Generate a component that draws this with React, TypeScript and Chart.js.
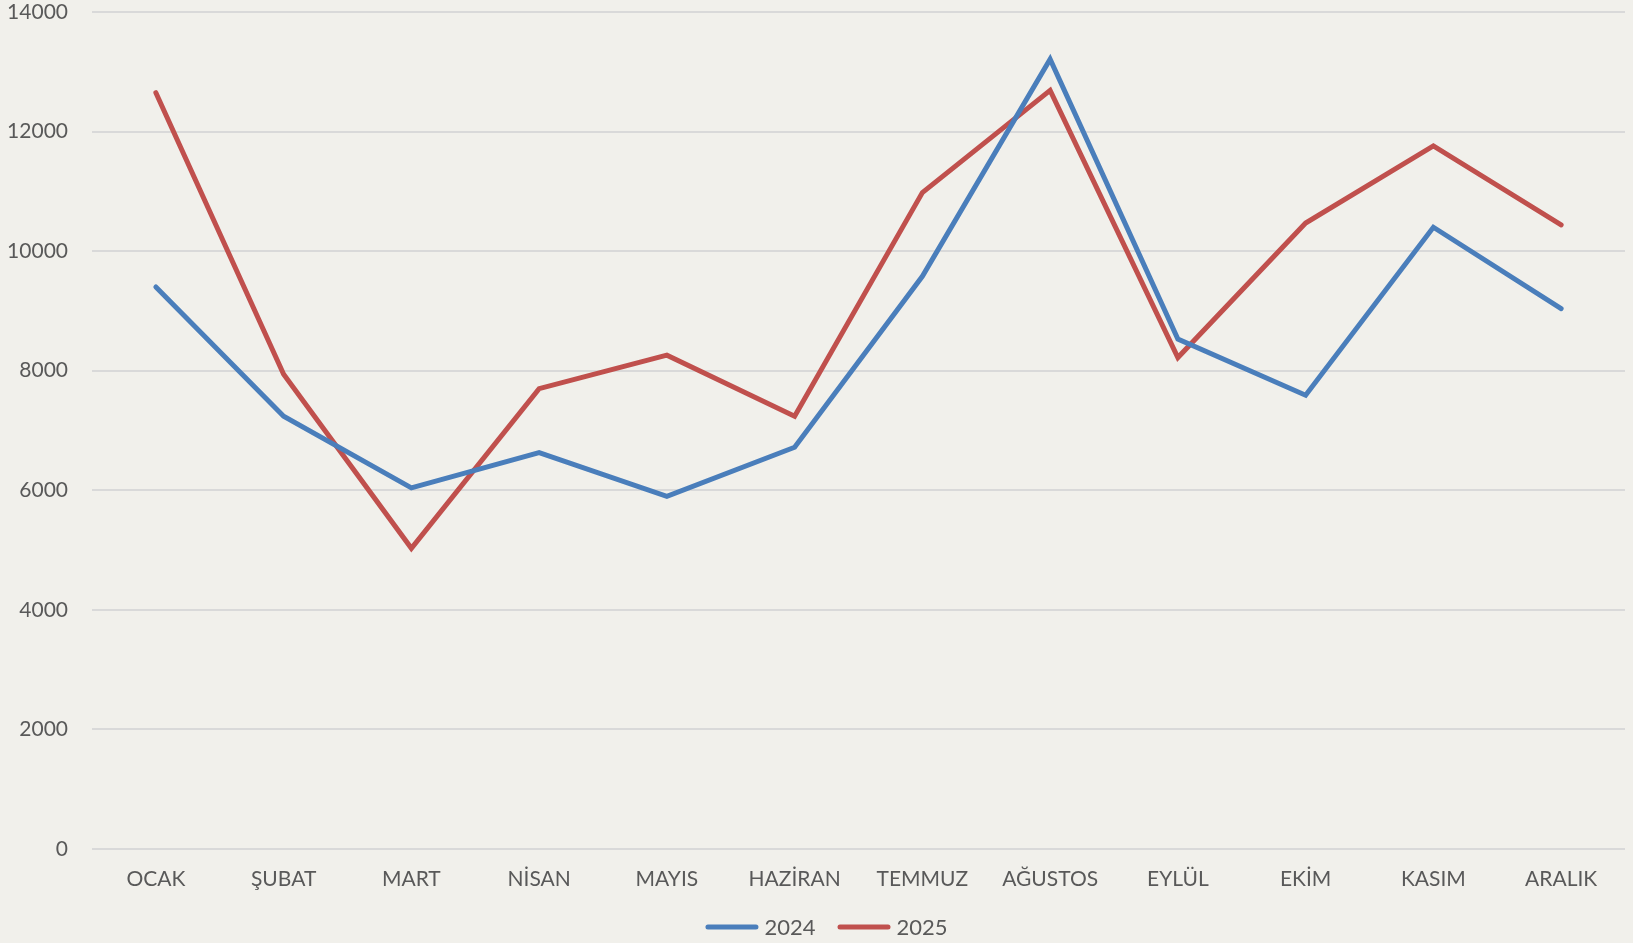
import React, { useEffect, useRef } from "react";
import { Chart, registerables } from "chart.js";

Chart.register(...registerables);

const months = ["OCAK", "ŞUBAT", "MART", "NİSAN", "MAYIS", "HAZİRAN", "TEMMUZ", "AĞUSTOS", "EYLÜL", "EKİM", "KASIM", "ARALIK"];
const values2024 = [9400, 7240, 6040, 6630, 5900, 6720, 9580, 13210, 8530, 7590, 10400, 9040];
const values2025 = [12650, 7940, 5030, 7700, 8260, 7240, 10980, 12690, 8220, 10470, 11760, 10440];
const yTicks = [0, 2000, 4000, 6000, 8000, 10000, 12000, 14000];

const BG = "#f1f0eb";
const TEXT = "#595959";
const FONT = "Lato, 'Open Sans', sans-serif";

const lineLegend = {
  id: "lineLegend",
  afterDraw(chart: any) {
    const ctx = chart.ctx as CanvasRenderingContext2D;
    const sets = chart.data.datasets;
    ctx.save();
    ctx.font = `22px ${FONT}`;
    const lineW = 53;
    const gap = 6;
    const itemGap = 22;
    const widths = sets.map((d: any) => ctx.measureText(d.label).width);
    const total = widths.reduce((a: number, w: number) => a + lineW + gap + w, 0) + itemGap * (sets.length - 1);
    let x = chart.width / 2 - total / 2 + 10;
    const y = 927;
    sets.forEach((d: any, i: number) => {
      ctx.strokeStyle = d.borderColor;
      ctx.lineWidth = 5;
      ctx.lineCap = "round";
      ctx.beginPath();
      ctx.moveTo(x + 2.5, y);
      ctx.lineTo(x + lineW - 2.5, y);
      ctx.stroke();
      ctx.fillStyle = TEXT;
      ctx.textBaseline = "middle";
      ctx.textAlign = "left";
      ctx.fillText(d.label, x + lineW + gap, y + 1);
      x += lineW + gap + widths[i] + itemGap;
    });
    ctx.restore();
  },
};

export default function App() {
  const ref = useRef<HTMLCanvasElement>(null);
  useEffect(() => {
    if (!ref.current) return;
    const chart = new Chart(ref.current, {
      type: "line",
      data: {
        labels: months,
        datasets: [
          { label: "2024", data: values2024, borderColor: "#4a7ebb", backgroundColor: "#4a7ebb", borderWidth: 5, pointRadius: 0, borderCapStyle: "round", tension: 0 },
          { label: "2025", data: values2025, borderColor: "#c0504d", backgroundColor: "#c0504d", borderWidth: 5, pointRadius: 0, borderCapStyle: "round", tension: 0 },
        ],
      },
      plugins: [lineLegend],
      options: {
        animation: false,
        responsive: false,
        maintainAspectRatio: false,
        layout: { padding: { left: 0, right: 8, top: 12, bottom: 36 } },
        plugins: {
          tooltip: { enabled: false },
          legend: { display: false },
        },
        scales: {
          x: {
            offset: true,
            grid: { display: false, drawTicks: false },
            border: { display: false },
            ticks: { color: TEXT, font: { family: FONT, size: 21 }, padding: 18, maxRotation: 0 },
            afterFit: (s: any) => { s.height = 58; s.paddingLeft = 0; s.paddingRight = 0; },
          },
          y: {
            min: 0,
            max: 14000,
            afterBuildTicks: (s: any) => { s.ticks = yTicks.map((v) => ({ value: v })); },
            grid: { color: "#d9d9d9", lineWidth: 2, drawTicks: false },
            border: { display: false },
            ticks: { color: TEXT, font: { family: FONT, size: 21 }, padding: 24, callback: (v: any) => String(v) },
            afterFit: (s: any) => { s.width = 92; s.paddingTop = 0; s.paddingBottom = 0; },
          },
        },
      },
    });
    return () => chart.destroy();
  }, []);
  return (
    <div style={{ position: "fixed", inset: 0, background: BG }}>
      <canvas ref={ref} width={1633} height={943} style={{ display: "block" }} />
    </div>
  );
}
